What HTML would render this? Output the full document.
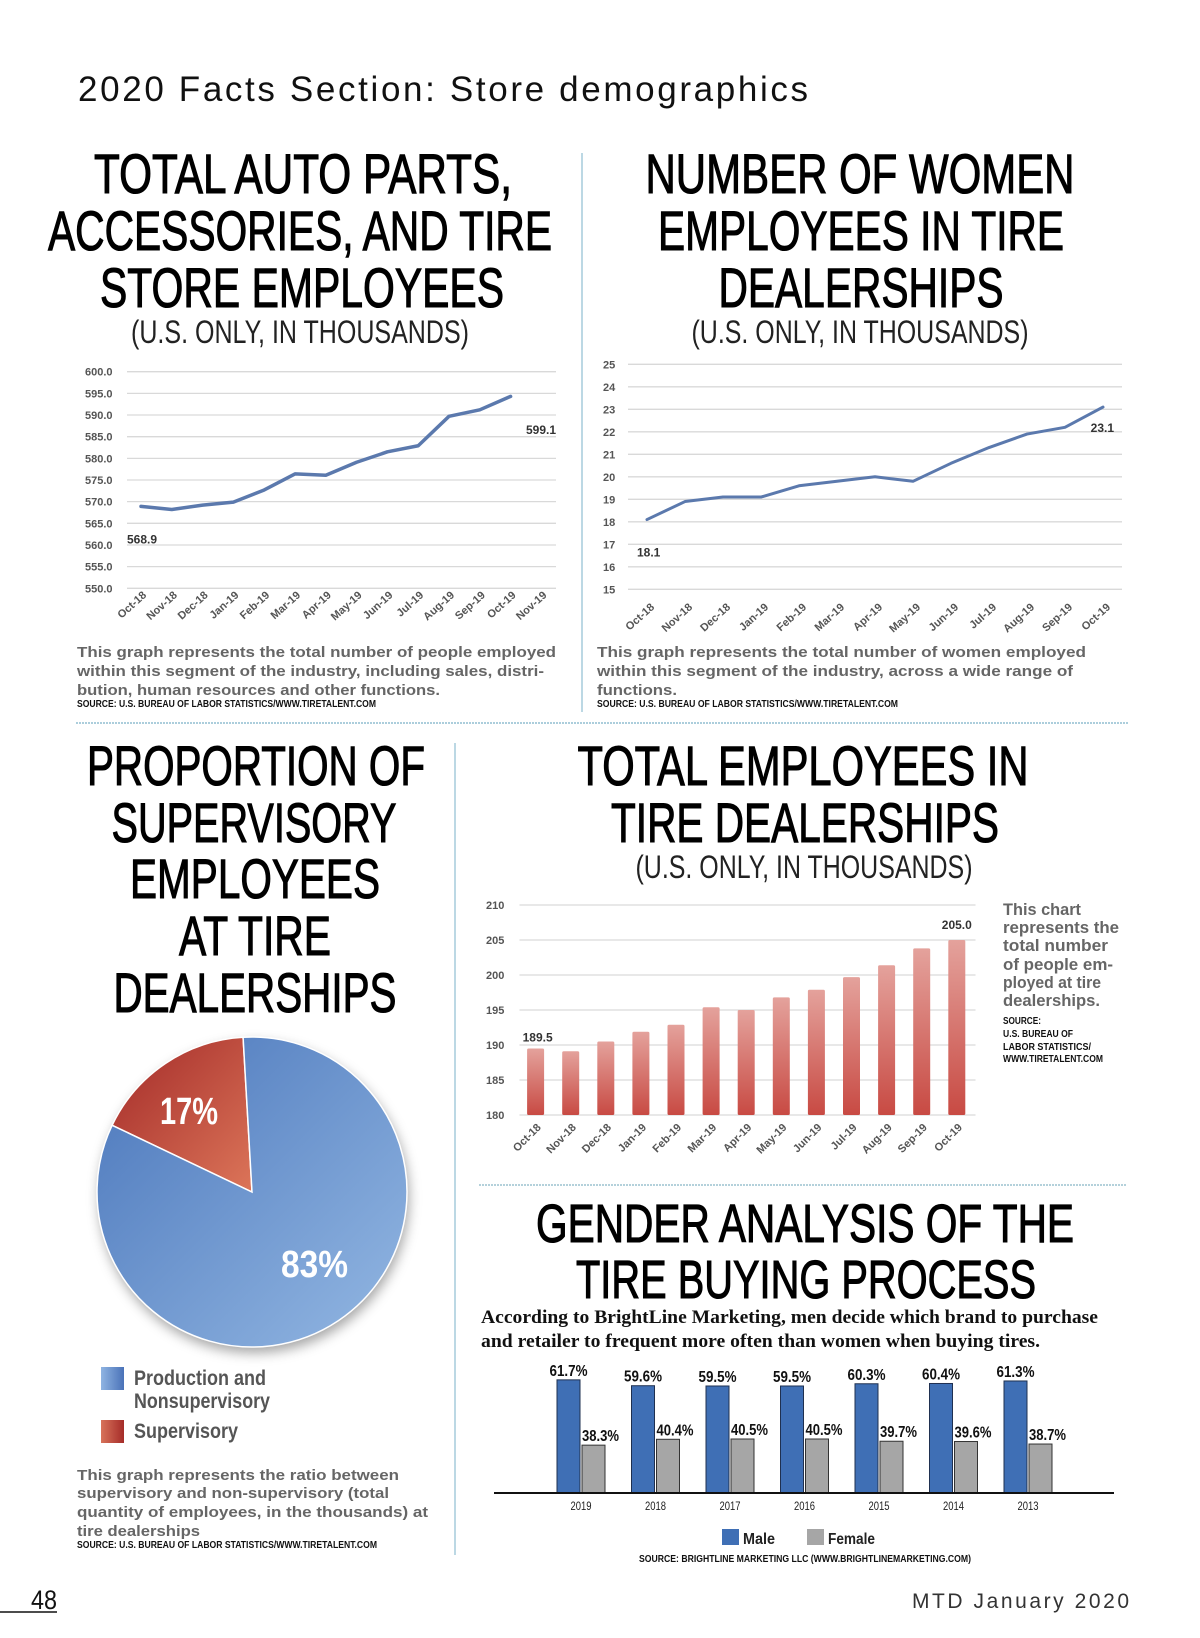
<!DOCTYPE html>
<html><head><meta charset="utf-8"><title>2020 Facts Section: Store demographics</title>
<style>
html,body{margin:0;padding:0;background:#fff;width:1200px;height:1638px;overflow:hidden}
svg{display:block}
.nar{font-family:"Liberation Sans Narrow","Liberation Sans",sans-serif}
.ttl{font-family:"Liberation Sans Narrow","Liberation Sans",sans-serif;font-size:56px;fill:#000;stroke:#000;stroke-width:1.1}
.sub{font-family:"Liberation Sans Narrow","Liberation Sans",sans-serif;font-size:32px;fill:#222}
.desc{font-family:"Liberation Sans",sans-serif;font-weight:bold;font-size:15px;fill:#666}
.src{font-family:"Liberation Sans Narrow","Liberation Sans",sans-serif;font-weight:bold;font-size:10px;fill:#111}
.tick{font-family:"Liberation Sans Narrow","Liberation Sans",sans-serif;font-weight:bold;font-size:11px;fill:#555}
</style></head>
<body>
<svg id="page" width="1200" height="1638" viewBox="0 0 1200 1638" xmlns="http://www.w3.org/2000/svg">
<defs>
<linearGradient id="barGrad" x1="0" y1="0" x2="0" y2="1"><stop offset="0" stop-color="#e4a29c"/><stop offset="1" stop-color="#c84a43"/></linearGradient>
<linearGradient id="blueGrad" x1="0" y1="0" x2="1" y2="1"><stop offset="0" stop-color="#4a76bb"/><stop offset="1" stop-color="#94b8e3"/></linearGradient>
<linearGradient id="redGrad" x1="0" y1="0" x2="1" y2="1"><stop offset="0" stop-color="#a32a28"/><stop offset="1" stop-color="#dc7559"/></linearGradient>
<linearGradient id="blueSq" x1="0" y1="0" x2="1" y2="0"><stop offset="0" stop-color="#8fb4e2"/><stop offset="1" stop-color="#4a72b8"/></linearGradient>
<linearGradient id="redSq" x1="0" y1="0" x2="1" y2="0"><stop offset="0" stop-color="#d8735a"/><stop offset="1" stop-color="#a52c29"/></linearGradient>
<filter id="shadow" x="-20%" y="-20%" width="140%" height="140%"><feDropShadow dx="2" dy="6" stdDeviation="6" flood-color="#000" flood-opacity="0.35"/></filter>
</defs>

<text x="78" y="101" textLength="730" lengthAdjust="spacing" class="nar" style="font-size:35px;fill:#111">2020 Facts Section: Store demographics</text>

<!-- dividers -->
<line x1="582" y1="153" x2="582" y2="712" stroke="#7ab0c8" stroke-width="1"/>
<line x1="76" y1="723" x2="1128" y2="723" stroke="#7ab0c8" stroke-width="1.2" stroke-dasharray="2,1"/>
<line x1="455" y1="743" x2="455" y2="1555" stroke="#7ab0c8" stroke-width="1"/>
<line x1="479" y1="1185" x2="1126" y2="1185" stroke="#9cc2cf" stroke-width="1.5" stroke-dasharray="2,1"/>

<!-- chart 1 title -->
<text class="ttl" x="303" y="193" text-anchor="middle" textLength="418" lengthAdjust="spacingAndGlyphs">TOTAL AUTO PARTS,</text>
<text class="ttl" x="300" y="250" text-anchor="middle" textLength="504" lengthAdjust="spacingAndGlyphs">ACCESSORIES, AND TIRE</text>
<text class="ttl" x="302" y="307" text-anchor="middle" textLength="404" lengthAdjust="spacingAndGlyphs">STORE EMPLOYEES</text>
<text class="sub" x="300" y="343" text-anchor="middle" textLength="338" lengthAdjust="spacingAndGlyphs">(U.S. ONLY, IN THOUSANDS)</text>

<!-- chart 2 title -->
<text class="ttl" x="860" y="193" text-anchor="middle" textLength="429" lengthAdjust="spacingAndGlyphs">NUMBER OF WOMEN</text>
<text class="ttl" x="861" y="250" text-anchor="middle" textLength="406" lengthAdjust="spacingAndGlyphs">EMPLOYEES IN TIRE</text>
<text class="ttl" x="861" y="307" text-anchor="middle" textLength="285" lengthAdjust="spacingAndGlyphs">DEALERSHIPS</text>
<text class="sub" x="860" y="343" text-anchor="middle" textLength="337" lengthAdjust="spacingAndGlyphs">(U.S. ONLY, IN THOUSANDS)</text>

<!-- pie title -->
<text class="ttl" x="256" y="785" text-anchor="middle" textLength="338" lengthAdjust="spacingAndGlyphs">PROPORTION OF</text>
<text class="ttl" x="254" y="842" text-anchor="middle" textLength="285" lengthAdjust="spacingAndGlyphs">SUPERVISORY</text>
<text class="ttl" x="255" y="898" text-anchor="middle" textLength="250" lengthAdjust="spacingAndGlyphs">EMPLOYEES</text>
<text class="ttl" x="255" y="955" text-anchor="middle" textLength="152" lengthAdjust="spacingAndGlyphs">AT TIRE</text>
<text class="ttl" x="255" y="1012" text-anchor="middle" textLength="283" lengthAdjust="spacingAndGlyphs">DEALERSHIPS</text>

<!-- bar title -->
<text class="ttl" x="803" y="785" text-anchor="middle" textLength="451" lengthAdjust="spacingAndGlyphs">TOTAL EMPLOYEES IN</text>
<text class="ttl" x="805" y="842" text-anchor="middle" textLength="388" lengthAdjust="spacingAndGlyphs">TIRE DEALERSHIPS</text>
<text class="sub" x="804" y="878" text-anchor="middle" textLength="337" lengthAdjust="spacingAndGlyphs">(U.S. ONLY, IN THOUSANDS)</text>

<!-- gender title -->
<text class="ttl" x="805" y="1242" text-anchor="middle" textLength="538" lengthAdjust="spacingAndGlyphs" style="font-size:54px">GENDER ANALYSIS OF THE</text>
<text class="ttl" x="806" y="1298" text-anchor="middle" textLength="460" lengthAdjust="spacingAndGlyphs" style="font-size:54px">TIRE BUYING PROCESS</text>
<text x="481" y="1323" textLength="617" lengthAdjust="spacingAndGlyphs" style="font-family:'Liberation Serif',serif;font-weight:bold;font-size:19px;fill:#111">According to BrightLine Marketing, men decide which brand to purchase</text>
<text x="481" y="1347" textLength="559" lengthAdjust="spacingAndGlyphs" style="font-family:'Liberation Serif',serif;font-weight:bold;font-size:19px;fill:#111">and retailer to frequent more often than women when buying tires.</text>

<!-- descriptions -->
<text class="desc" x="77" y="657" textLength="479" lengthAdjust="spacingAndGlyphs">This graph represents the total number of people employed</text>
<text class="desc" x="77" y="676" textLength="467" lengthAdjust="spacingAndGlyphs">within this segment of the industry, including sales, distri-</text>
<text class="desc" x="77" y="695" textLength="363" lengthAdjust="spacingAndGlyphs">bution, human resources and other functions.</text>
<text class="src" x="77" y="707" textLength="299" lengthAdjust="spacingAndGlyphs">SOURCE: U.S. BUREAU OF LABOR STATISTICS/WWW.TIRETALENT.COM</text>

<text class="desc" x="597" y="657" textLength="489" lengthAdjust="spacingAndGlyphs">This graph represents the total number of women employed</text>
<text class="desc" x="597" y="676" textLength="476" lengthAdjust="spacingAndGlyphs">within this segment of the industry, across a wide range of</text>
<text class="desc" x="597" y="695" textLength="80" lengthAdjust="spacingAndGlyphs">functions.</text>
<text class="src" x="597" y="707" textLength="301" lengthAdjust="spacingAndGlyphs">SOURCE: U.S. BUREAU OF LABOR STATISTICS/WWW.TIRETALENT.COM</text>

<text class="desc" x="77" y="1480" textLength="322" lengthAdjust="spacingAndGlyphs">This graph represents the ratio between</text>
<text class="desc" x="77" y="1498" textLength="312" lengthAdjust="spacingAndGlyphs">supervisory and non-supervisory (total</text>
<text class="desc" x="77" y="1517" textLength="351" lengthAdjust="spacingAndGlyphs">quantity of employees, in the thousands) at</text>
<text class="desc" x="77" y="1536" textLength="123" lengthAdjust="spacingAndGlyphs">tire dealerships</text>
<text class="src" x="77" y="1548" textLength="300" lengthAdjust="spacingAndGlyphs">SOURCE: U.S. BUREAU OF LABOR STATISTICS/WWW.TIRETALENT.COM</text>

<g class="nar" style="font-weight:bold;font-size:17px;fill:#666">
<text x="1003" y="915" textLength="78" lengthAdjust="spacingAndGlyphs">This chart</text>
<text x="1003" y="933" textLength="116" lengthAdjust="spacingAndGlyphs">represents the</text>
<text x="1003" y="951" textLength="105" lengthAdjust="spacingAndGlyphs">total number</text>
<text x="1003" y="970" textLength="110" lengthAdjust="spacingAndGlyphs">of people em-</text>
<text x="1003" y="988" textLength="98" lengthAdjust="spacingAndGlyphs">ployed at tire</text>
<text x="1003" y="1006" textLength="97" lengthAdjust="spacingAndGlyphs">dealerships.</text>
</g>
<text class="src" x="1003" y="1024" textLength="38" lengthAdjust="spacingAndGlyphs">SOURCE:</text>
<text class="src" x="1003" y="1037" textLength="70" lengthAdjust="spacingAndGlyphs">U.S. BUREAU OF</text>
<text class="src" x="1003" y="1050" textLength="88" lengthAdjust="spacingAndGlyphs">LABOR STATISTICS/</text>
<text class="src" x="1003" y="1062" textLength="100" lengthAdjust="spacingAndGlyphs">WWW.TIRETALENT.COM</text>

<!-- pie legend -->
<rect x="101" y="1367" width="23" height="23" fill="url(#blueSq)"/>
<text class="nar" x="134" y="1385" style="font-weight:bold;font-size:21px;fill:#555" textLength="132" lengthAdjust="spacingAndGlyphs">Production and</text>
<text class="nar" x="134" y="1408" style="font-weight:bold;font-size:21px;fill:#555" textLength="136" lengthAdjust="spacingAndGlyphs">Nonsupervisory</text>
<rect x="101" y="1420" width="23" height="23" fill="url(#redSq)"/>
<text class="nar" x="134" y="1438" style="font-weight:bold;font-size:21px;fill:#555" textLength="104" lengthAdjust="spacingAndGlyphs">Supervisory</text>

<!-- gender legend -->
<rect x="722" y="1529" width="17" height="16" fill="#3f6fb5"/>
<text class="nar" x="743" y="1544" style="font-weight:bold;font-size:16px;fill:#222" textLength="32" lengthAdjust="spacingAndGlyphs">Male</text>
<rect x="807" y="1529" width="17" height="16" fill="#a6a6a6"/>
<text class="nar" x="828" y="1544" style="font-weight:bold;font-size:16px;fill:#222" textLength="47" lengthAdjust="spacingAndGlyphs">Female</text>
<text class="src" x="639" y="1562" textLength="332" lengthAdjust="spacingAndGlyphs">SOURCE: BRIGHTLINE MARKETING LLC (WWW.BRIGHTLINEMARKETING.COM)</text>

<!-- footer -->
<text class="nar" x="31" y="1609" style="font-size:27px;fill:#111" textLength="26" lengthAdjust="spacingAndGlyphs">48</text>
<line x1="0" y1="1612" x2="57" y2="1612" stroke="#111" stroke-width="1.5"/>
<text class="nar" x="912" y="1608" style="font-size:21px;fill:#333" textLength="217" lengthAdjust="spacing">MTD January 2020</text>

<g id="chart1"></g>
<g id="chart2"></g>
<g id="chart3"></g>
<g id="chart4"></g>
<g id="chart5"></g>
</svg>
<script>
// ---------- data ----------
const c1Categories = ["Oct-18","Nov-18","Dec-18","Jan-19","Feb-19","Mar-19","Apr-19","May-19","Jun-19","Jul-19","Aug-19","Sep-19","Oct-19","Nov-19"];
const c1Values = [568.9,568.2,569.2,569.9,572.7,576.4,576.1,579.1,581.5,582.9,589.7,591.2,594.3];
const c1Ticks = [550,555,560,565,570,575,580,585,590,595,600];
const c1FirstLabel = "568.9";
const c1LastLabel = "599.1";

const c2Categories = ["Oct-18","Nov-18","Dec-18","Jan-19","Feb-19","Mar-19","Apr-19","May-19","Jun-19","Jul-19","Aug-19","Sep-19","Oct-19"];
const c2Values = [18.1,18.9,19.1,19.1,19.6,19.8,20.0,19.8,20.6,21.3,21.9,22.2,23.1];
const c2Ticks = [15,16,17,18,19,20,21,22,23,24,25];

const pieLabels = ["Supervisory","Production and Nonsupervisory"];
const pieValues = [17,83];

const barCategories = ["Oct-18","Nov-18","Dec-18","Jan-19","Feb-19","Mar-19","Apr-19","May-19","Jun-19","Jul-19","Aug-19","Sep-19","Oct-19"];
const barValues = [189.5,189.1,190.5,191.9,192.9,195.4,195.0,196.8,197.9,199.7,201.4,203.8,205.0];
const barTicks = [180,185,190,195,200,205,210];

const genderYears = ["2019","2018","2017","2016","2015","2014","2013"];
const maleValues = [61.7,59.6,59.5,59.5,60.3,60.4,61.3];
const femaleValues = [38.3,40.4,40.5,40.5,39.7,39.6,38.7];

// ---------- helpers ----------
const NS = "http://www.w3.org/2000/svg";
function mk(tag, parent, attrs){ const e=document.createElementNS(NS,tag); for(const k in attrs) e.setAttribute(k,attrs[k]); parent.appendChild(e); return e; }

// ---------- chart 1 ----------
(function(){
  const g = document.getElementById("chart1");
  const y = v => 371.7 + (600 - v) * (588.3 - 371.7) / 50;
  const x = i => 141 + i * 30.8;
  c1Ticks.forEach(t => {
    const l = mk("line", g, {x1:127, x2:556, y1:y(t), y2:y(t), stroke:"#d9d9d9", "stroke-width":1.3});
    
    
    const tx = mk("text", g, {x:85, y:y(t)+4, class:"tick"}); tx.textContent = t.toFixed(1);
    
    
  });
  c1Categories.forEach((c,i) => {
    const tx = mk("text", g, {x:x(i)+6, y:596, class:"tick", "text-anchor":"end", transform:`rotate(-42 ${x(i)+6} 596)`}); tx.textContent = c;
    
    
  });
  const pts = c1Values.map((v,i)=>x(i)+","+y(v)).join(" ");
  const pl = mk("polyline", g, {points:pts, fill:"none", stroke:"#5b79ad", "stroke-width":3.5, "stroke-linejoin":"round", "stroke-linecap":"round"});
  
  
  const a = mk("text", g, {x:x(0)-14, y:y(c1Values[0])+37, class:"tick", style:"font-size:12px;fill:#333"}); a.textContent = c1FirstLabel;
  
  
  const b = mk("text", g, {x:556, y:434, class:"tick", "text-anchor":"end", style:"font-size:12px;fill:#333"}); b.textContent = c1LastLabel;
  
  
})();

// ---------- chart 2 ----------
(function(){
  const g = document.getElementById("chart2");
  const y = v => 364.3 + (25 - v) * 22.5;
  const x = i => 647 + i * 38;
  c2Ticks.forEach(t => {
    const l = mk("line", g, {x1:628, x2:1122, y1:y(t), y2:y(t), stroke:"#d9d9d9", "stroke-width":1.3});
    
    
    const tx = mk("text", g, {x:603, y:y(t)+4, class:"tick"}); tx.textContent = t;
    
    
  });
  c2Categories.forEach((c,i) => {
    const tx = mk("text", g, {x:x(i)+8, y:608, class:"tick", "text-anchor":"end", transform:`rotate(-42 ${x(i)+8} 608)`}); tx.textContent = c;
    
    
  });
  const pts = c2Values.map((v,i)=>x(i)+","+y(v)).join(" ");
  const pl = mk("polyline", g, {points:pts, fill:"none", stroke:"#5b79ad", "stroke-width":3, "stroke-linejoin":"round", "stroke-linecap":"round"});
  
  
  const a = mk("text", g, {x:x(0)-10, y:y(c2Values[0])+37, class:"tick", style:"font-size:12px;fill:#333"}); a.textContent = c2Values[0].toFixed(1);
  
  
  const last = c2Values[c2Values.length-1];
  const b = mk("text", g, {x:1114, y:y(last)+25, class:"tick", "text-anchor":"end", style:"font-size:12px;fill:#333"}); b.textContent = last.toFixed(1);
  
  
})();

// ---------- pie ----------
(function(){
  const g = document.getElementById("chart3");
  const cx = 252, cy = 1192, r = 155;
  const total = pieValues.reduce((a,b)=>a+b,0);
  let end = -3.3 * Math.PI/180;
  const pt = a => [cx + r*Math.sin(a), cy - r*Math.cos(a)];
  const bg = mk("circle", g, {cx:cx, cy:cy, r:r, fill:"url(#blueGrad)", filter:"url(#shadow)"});
  
  
  const fills = ["url(#redGrad)","url(#blueGrad)"];
  let a1 = end - pieValues[0]/total*2*Math.PI;
  const slices = [[a1,end],[end,a1+2*Math.PI]];
  slices.forEach((s,i) => {
    const p0 = pt(s[0]), p1 = pt(s[1]);
    const large = (s[1]-s[0]) > Math.PI ? 1 : 0;
    const p = mk("path", g, {d:`M${cx},${cy} L${p0[0]},${p0[1]} A${r},${r} 0 ${large} 1 ${p1[0]},${p1[1]} Z`, fill:fills[i], stroke:"#fff", "stroke-width":1.5});
    
    
  });
  const l1 = mk("text", g, {x:160, y:1124, class:"nar", style:"font-weight:bold;font-size:38px;fill:#fff", textLength:58, lengthAdjust:"spacingAndGlyphs"}); l1.textContent = pieValues[0]+"%";
  
  
  const l2 = mk("text", g, {x:281, y:1277, class:"nar", style:"font-weight:bold;font-size:38px;fill:#fff", textLength:67, lengthAdjust:"spacingAndGlyphs"}); l2.textContent = pieValues[1]+"%";
  
  
})();

// ---------- bar chart ----------
(function(){
  const g = document.getElementById("chart4");
  const y = v => 905 + (210 - v) * 7;
  const x = i => 535.6 + i * 35.1;
  barTicks.forEach(t => {
    const l = mk("line", g, {x1:519.5, x2:975.5, y1:y(t), y2:y(t), stroke:"#d9d9d9", "stroke-width":1.3});
    
    
    const tx = mk("text", g, {x:486, y:y(t)+4, class:"tick"}); tx.textContent = t;
    
    
  });
  barValues.forEach((v,i) => {
    const r = mk("rect", g, {x:x(i)-8.5, y:y(v), width:17, height:y(180)-y(v), fill:"url(#barGrad)", rx:1.5});
    
    
  });
  barCategories.forEach((c,i) => {
    const tx = mk("text", g, {x:x(i)+6, y:1128, class:"tick", "text-anchor":"end", transform:`rotate(-45 ${x(i)+6} 1128)`}); tx.textContent = c;
    
    
  });
  const a = mk("text", g, {x:x(0)-13, y:y(barValues[0])-7, class:"tick", style:"font-size:12px;fill:#333"}); a.textContent = barValues[0].toFixed(1);
  
  
  const n = barValues.length-1;
  const b = mk("text", g, {x:x(n), y:y(barValues[n])-11, class:"tick", "text-anchor":"middle", style:"font-size:12px;fill:#333"}); b.textContent = barValues[n].toFixed(1);
  
  
})();

// ---------- gender chart ----------
(function(){
  const g = document.getElementById("chart5");
  const y = v => 1552 - 2.79 * v;
  const x = i => 557 + i * 74.5;
  genderYears.forEach((yr,i) => {
    const m = mk("rect", g, {x:x(i), y:y(maleValues[i]), width:23, height:1493-y(maleValues[i]), fill:"#3f6fb5", stroke:"#1f3050", "stroke-width":1});
    
    
    const f = mk("rect", g, {x:x(i)+25, y:y(femaleValues[i]), width:23, height:1493-y(femaleValues[i]), fill:"#a6a6a6", stroke:"#333", "stroke-width":1});
    
    
    const ml = mk("text", g, {x:x(i)+11.5, y:y(maleValues[i])-4, class:"nar", "text-anchor":"middle", style:"font-weight:bold;font-size:16px;fill:#111", textLength:38, lengthAdjust:"spacingAndGlyphs"}); ml.textContent = maleValues[i].toFixed(1)+"%";
    
    
    const fl = mk("text", g, {x:x(i)+25, y:y(femaleValues[i])-4, class:"nar", "text-anchor":"start", style:"font-weight:bold;font-size:16px;fill:#111", textLength:37, lengthAdjust:"spacingAndGlyphs"}); fl.textContent = femaleValues[i].toFixed(1)+"%";
    
    
    const yl = mk("text", g, {x:x(i)+24, y:1510, class:"nar", "text-anchor":"middle", style:"font-size:12px;fill:#222", textLength:21, lengthAdjust:"spacingAndGlyphs"}); yl.textContent = yr;
    
    
  });
  const ax = mk("line", g, {x1:494, x2:1114, y1:1493, y2:1493, stroke:"#111", "stroke-width":2});
  
  
})();
</script>
</body></html>
